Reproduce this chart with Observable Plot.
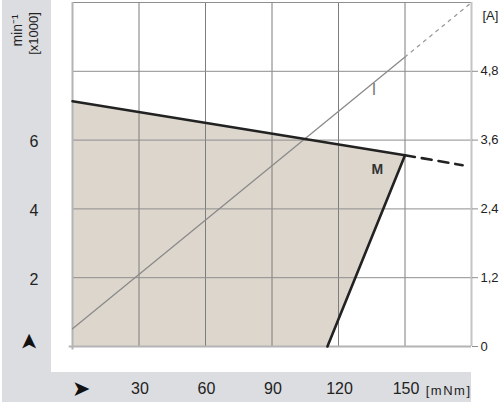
<!DOCTYPE html>
<html><head><meta charset="utf-8">
<script src="https://cdn.jsdelivr.net/npm/d3@7"></script>
<script src="https://cdn.jsdelivr.net/npm/@observablehq/plot@0.6"></script>
<style>
body{margin:0;background:#fff;}
#wrap{position:relative;width:500px;height:405px;overflow:hidden;}
.band{position:absolute;background:#dcdde0;}
#chart{position:absolute;left:0;top:0;}
</style></head>
<body>
<div id="wrap">
<div class="band" style="left:2px;top:0;width:49px;height:372px"></div>
<div class="band" style="left:2px;top:372px;width:469px;height:30px"></div>
<div id="chart"></div>
</div>
<script>
// Speed–torque characteristic (torque mNm, speed x1000 min^-1)
const speedTorque = [0, 150];
const speedValues = [7.13, 5.56];
const speedExtTorque = [150, 176];
const speedExtValues = [5.56, 5.27];
const stallTorque = 115;
// Current (A) vs torque
const currentTorque = [0, 150];
const currentValues = [0.31, 5.05];
const currentExtTorque = [150, 180];
const currentExtValues = [5.05, 6.0];
// Ticks
const xTicks = [30, 60, 90, 120, 150];
const leftTicks = [2, 4, 6];
const rightTicks = [0, 2, 4, 6, 8];
const gridX = [30, 60, 90, 120, 150];
const gridY = [2, 4, 6, 8];
const ampPerUnit = 0.6; // 1.2 A per 2 (x1000 min^-1)

const polygon = [
  {x: 0, y: 0},
  {x: speedTorque[0], y: speedValues[0]},
  {x: speedTorque[1], y: speedValues[1]},
  {x: stallTorque, y: 0}
];
const speedLine = speedTorque.map((t, i) => ({x: t, y: speedValues[i]}));
const speedExt = speedExtTorque.map((t, i) => ({x: t, y: speedExtValues[i]}));
const stallLine = [{x: speedTorque[1], y: speedValues[1]}, {x: stallTorque, y: 0}];
const curLine = currentTorque.map((t, i) => ({x: t, y: currentValues[i] / ampPerUnit}));
const curExt = currentExtTorque.map((t, i) => ({x: t, y: currentExtValues[i] / ampPerUnit}));

const fmtA = d => d === 0 ? "0" : (d * ampPerUnit).toFixed(1).replace(".", ",");

const chart = Plot.plot({
  width: 500, height: 405,
  marginLeft: 72, marginRight: 29, marginTop: 2, marginBottom: 59,
  style: {background: "transparent", fontFamily: "'Liberation Sans', Arial, sans-serif", color: "#222"},
  x: {domain: [0, 180], label: null},
  y: {domain: [0, 10], label: null},
  marks: [
    Plot.line(polygon, {x: "x", y: "y", fill: "#ddd6cd", stroke: "none"}),
    Plot.ruleX(gridX, {stroke: "#7d7d7d", strokeWidth: 1}),
    Plot.ruleY(gridY, {stroke: "#8e8e8e", strokeWidth: 1}),
    Plot.ruleY([10], {stroke: "#8e8e8e", strokeWidth: 1}),
    Plot.ruleX([0], {y1: -0.1, y2: 10, stroke: "#b4b4b4", strokeWidth: 2}),
    Plot.ruleX([180], {stroke: "#c4c4c4", strokeWidth: 2}),
    Plot.ruleY([0], {x1: -1.5, x2: 180, stroke: "#b4b4b4", strokeWidth: 2}),
    Plot.line(curLine, {x: "x", y: "y", stroke: "#8a8a8a", strokeWidth: 1.3}),
    Plot.line(curExt, {x: "x", y: "y", stroke: "#9a9a9a", strokeWidth: 1.3, strokeDasharray: "3,5"}),
    Plot.line(speedLine, {x: "x", y: "y", stroke: "#222", strokeWidth: 2.6}),
    Plot.line(stallLine, {x: "x", y: "y", stroke: "#222", strokeWidth: 2.6}),
    Plot.line(speedExt, {x: "x", y: "y", stroke: "#222", strokeWidth: 2.6, strokeDasharray: "10,7"}),
    Plot.text(["M"], {x: 137.5, y: 5.15, fontSize: 14, fontWeight: "bold", fill: "#333"}),
    Plot.text(["I"], {x: 136, y: 7.45, fontSize: 16, fill: "#7a7a7a"}),
    Plot.axisX(xTicks, {tickSize: 0, tickPadding: 36, fontSize: 16, dx: 1, fill: "#222", label: null}),
    Plot.axisY(leftTicks, {anchor: "left", tickSize: 0, tickPadding: 34, fontSize: 16, dy: 2, fill: "#222", label: null}),
    Plot.axisY(rightTicks, {anchor: "right", tickSize: 6, tickPadding: 3, fontSize: 13, stroke: "#8e8e8e", tickFormat: fmtA, fill: "#222", label: null}),
    Plot.text(["[A]"], {frameAnchor: "top-right", lineAnchor: "middle", dx: 11, dy: 13, textAnchor: "start", fontSize: 13, fill: "#222"}),
    Plot.text(["[mNm]"], {frameAnchor: "bottom-right", lineAnchor: "middle", dx: 0, dy: 44, textAnchor: "end", fontSize: 13, fill: "#222", title: "unit"}),
    Plot.text(["➤"], {frameAnchor: "bottom-left", lineAnchor: "middle", dx: 8, dy: 42, textAnchor: "middle", fontSize: 22, fill: "#111"}),
    Plot.text(["➤"], {frameAnchor: "bottom-left", lineAnchor: "middle", dx: -44, dy: -5, rotate: -90, textAnchor: "middle", fontSize: 22, fill: "#111"}),
    Plot.text(["min⁻¹"], {frameAnchor: "top-left", lineAnchor: "middle", dx: -55, dy: 28, rotate: -90, textAnchor: "middle", fontSize: 14, fill: "#222"}),
    Plot.text(["[x1000]"], {frameAnchor: "top-left", lineAnchor: "middle", dx: -39, dy: 31, rotate: -90, textAnchor: "middle", fontSize: 13, fill: "#222"})
  ]
});
d3.select(chart).selectAll("text").filter(function() { return this.textContent.startsWith("[mNm]"); })
  .style("letter-spacing", "1.5px");
document.getElementById("chart").appendChild(chart);
</script>
</body></html>
